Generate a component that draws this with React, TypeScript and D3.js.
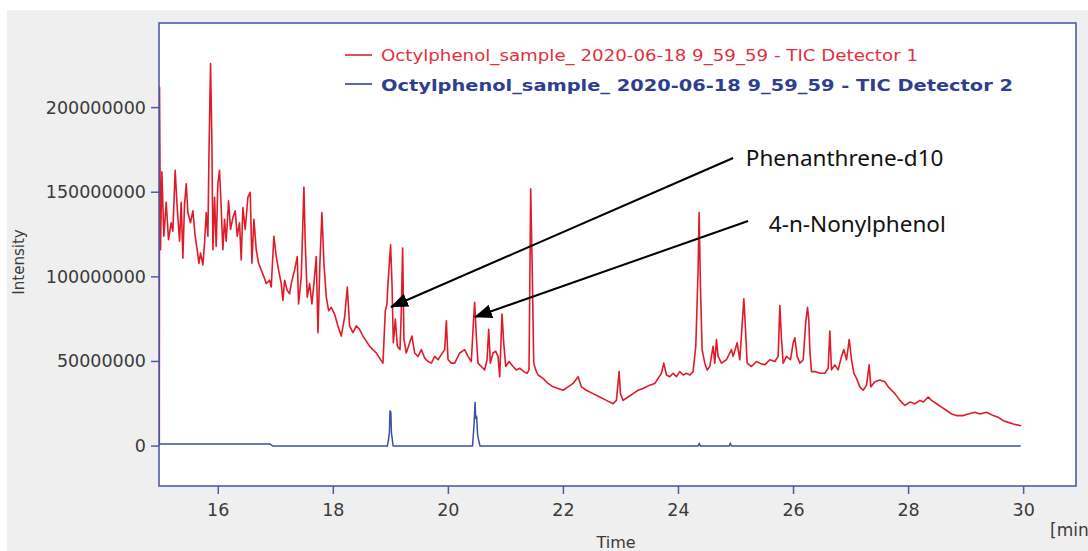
import React from "react";
import * as d3 from "d3";

// ---- Data ----
const xTicks = [16, 18, 20, 22, 24, 26, 28, 30];
const yTicks = [0, 50, 100, 150, 200]; // millions
const yTickLabels = ["0", "50000000", "100000000", "150000000", "200000000"];

const legendLabels = [
  "Octylphenol_sample_ 2020-06-18 9_59_59 - TIC Detector 1",
  "Octylphenol_sample_ 2020-06-18 9_59_59 - TIC Detector 2",
];

// Detector 1 (red) – time [min], intensity [millions]
const redTime = [
  14.975, 14.979, 14.996, 15.02, 15.054, 15.095, 15.135, 15.182, 15.211, 15.251, 15.286, 15.327,
  15.356, 15.385, 15.414, 15.443, 15.472, 15.518, 15.559, 15.599, 15.634, 15.663, 15.692, 15.733,
  15.762, 15.791, 15.82, 15.837, 15.866, 15.889, 15.907, 15.936, 15.964, 15.993, 16.022, 16.051,
  16.08, 16.109, 16.138, 16.179, 16.214, 16.254, 16.295, 16.33, 16.37, 16.399, 16.428, 16.469,
  16.515, 16.556, 16.585, 16.62, 16.66, 16.701, 16.747, 16.794, 16.834, 16.892, 16.921, 16.967,
  17.008, 17.049, 17.095, 17.124, 17.153, 17.199, 17.24, 17.269, 17.327, 17.373, 17.396, 17.443,
  17.489, 17.512, 17.547, 17.588, 17.628, 17.663, 17.704, 17.733, 17.767, 17.802, 17.837, 17.878,
  17.918, 17.964, 18.022, 18.08, 18.138, 18.196, 18.243, 18.283, 18.341, 18.399, 18.457, 18.515,
  18.573, 18.631, 18.689, 18.747, 18.805, 18.863, 18.904, 18.933, 18.95, 18.996, 19.02, 19.043,
  19.078, 19.113, 19.159, 19.182, 19.205, 19.228, 19.269, 19.327, 19.367, 19.414, 19.472, 19.53,
  19.588, 19.646, 19.704, 19.762, 19.82, 19.878, 19.936, 19.965, 19.994, 20.051, 20.11, 20.197,
  20.283, 20.341, 20.399, 20.44, 20.457, 20.486, 20.515, 20.573, 20.631, 20.672, 20.701, 20.73,
  20.776, 20.823, 20.863, 20.892, 20.933, 20.962, 20.997, 21.055, 21.124, 21.182, 21.24, 21.31,
  21.368, 21.402, 21.431, 21.46, 21.484, 21.518, 21.559, 21.646, 21.733, 21.82, 21.907, 21.994,
  22.081, 22.168, 22.255, 22.312, 22.399, 22.515, 22.631, 22.747, 22.863, 22.921, 22.968, 22.991,
  23.037, 23.124, 23.211, 23.298, 23.385, 23.501, 23.588, 23.646, 23.704, 23.744, 23.791, 23.849,
  23.907, 23.965, 24.023, 24.081, 24.139, 24.197, 24.254, 24.301, 24.341, 24.359, 24.382, 24.411,
  24.457, 24.498, 24.544, 24.602, 24.631, 24.66, 24.689, 24.747, 24.834, 24.921, 24.95, 25.02,
  25.066, 25.136, 25.159, 25.194, 25.269, 25.356, 25.414, 25.501, 25.588, 25.675, 25.733, 25.762,
  25.791, 25.82, 25.878, 25.947, 25.994, 26.023, 26.063, 26.11, 26.168, 26.214, 26.243, 26.266,
  26.283, 26.312, 26.37, 26.457, 26.544, 26.602, 26.631, 26.66, 26.718, 26.776, 26.834, 26.875,
  26.921, 26.968, 27.008, 27.049, 27.095, 27.153, 27.211, 27.269, 27.315, 27.344, 27.414, 27.501,
  27.588, 27.646, 27.704, 27.762, 27.849, 27.936, 28.023, 28.11, 28.197, 28.255, 28.341, 28.399,
  28.486, 28.573, 28.66, 28.747, 28.834, 28.95, 29.037, 29.153, 29.24, 29.356, 29.472, 29.559,
  29.646, 29.733, 29.82, 29.954,
];
const redIntensity = [
  0, 212, 116, 162, 124, 144, 122, 132, 127, 163, 141, 121,
  144, 111, 143, 155, 138, 132, 139, 124, 116, 108, 114, 107,
  120, 138, 124, 169, 226, 181, 116, 147, 118, 155, 163, 141,
  116, 134, 121, 145, 128, 135, 139, 124, 132, 110, 141, 128,
  147, 150, 108, 134, 116, 108, 104, 100, 96, 98, 94, 124,
  112, 104, 96, 86, 98, 92, 90, 96, 104, 112, 84, 100,
  153, 120, 88, 96, 84, 96, 112, 67, 108, 138, 108, 88,
  80, 82, 78, 71, 65, 76, 94, 71, 67, 71, 69, 65,
  62, 59, 57, 55, 52, 49, 80, 84, 96, 119, 96, 61,
  75, 59, 57, 80, 117, 63, 55, 61, 65, 55, 53, 57,
  52, 50, 49, 53, 51, 54, 57, 74, 51, 49, 49, 55,
  57, 53, 50, 76, 85, 65, 49, 47, 45, 51, 69, 49,
  55, 56, 53, 41, 78, 61, 47, 50, 47, 45, 46, 44,
  43, 45, 152, 100, 49, 45, 42, 40, 37, 35, 34, 33,
  35, 37, 41, 35, 33, 31, 29, 27, 25, 27, 44, 31,
  27, 29, 31, 33, 34, 36, 37, 40, 43, 49, 42, 41,
  43, 41, 44, 42, 43, 42, 44, 59, 104, 138, 94, 57,
  49, 45, 47, 59, 49, 63, 53, 49, 51, 57, 53, 61,
  51, 87, 73, 49, 47, 50, 49, 48, 51, 50, 53, 83,
  63, 49, 53, 51, 61, 64, 53, 49, 51, 74, 82, 74,
  57, 44, 44, 43, 43, 46, 68, 45, 48, 45, 53, 57,
  51, 63, 51, 43, 40, 35, 33, 36, 48, 35, 38, 39,
  38, 35, 33, 31, 27, 24, 26, 25, 27, 26, 29, 27,
  25, 23, 21, 19, 18, 18, 19, 20, 19, 20, 18, 17,
  15, 14, 13, 12,
];

// Detector 2 (blue)
const blueTime = [
  14.97, 16.9, 16.95, 18.94, 18.96, 18.975, 18.985, 19.0, 19.01, 19.04,
  20.42, 20.445, 20.465, 20.475, 20.49, 20.51, 20.55,
  24.34, 24.36, 24.38, 24.88, 24.9, 24.92, 29.95,
];
const blueIntensity = [
  1.2, 1.2, 0, 0, 4, 8, 21, 20, 8, 0,
  0, 12, 26, 16, 18, 6, 0,
  0, 1.5, 0, 0, 1.5, 0, 0,
];

// Annotations (time, intensity in millions)
const annotationLabels = ["Phenanthrene-d10", "4-n-Nonylphenol"];
const annotationTextPos = [[25.17, 165.7], [25.57, 126.7]];
const annotationLineStart = [[24.95, 170.2], [25.21, 133.0]];
const annotationTip = [[19.003, 82.2], [20.463, 76.3]];

export default function App() {
  const W = 1088;
  const H = 551;
  const L = 159, T = 23, R = 1076, B = 486;
  const x = d3.scaleLinear().domain([14.97, 30.91]).range([L, R]);
  const y = d3.scaleLinear().domain([-23.6, 250]).range([B, T]);

  const redData = redTime.map((t, i) => [t, redIntensity[i]] as [number, number]);
  const blueData = blueTime.map((t, i) => [t, blueIntensity[i]] as [number, number]);
  const line = d3.line<[number, number]>().x((d) => x(d[0])).y((d) => y(d[1]));

  const axisColor = "#4c5ca8";
  const labelColor = "#3a3a3a";

  return (
    <svg
      width={W}
      height={H}
      style={{ position: "absolute", left: 0, top: 0, display: "block" }}
    >
      <defs>
        <clipPath id="plotClip">
          <rect x={L} y={T} width={R - L} height={B - T} />
        </clipPath>
        <marker
          id="arrowHead"
          markerUnits="userSpaceOnUse"
          markerWidth={18}
          markerHeight={14}
          viewBox="0 0 18 14"
          refX={17}
          refY={7}
          orient="auto"
        >
          <path d="M0,0 L18,7 L0,14 Z" fill="#000" />
        </marker>
      </defs>
      <rect x={0} y={0} width={W} height={H} fill="#ffffff" />
      <rect x={7} y={10} width={W - 7} height={H - 10} fill="#efefef" />
      <rect x={L} y={T} width={R - L} height={B - T} fill="#ffffff" />

      {/* series */}
      <g clipPath="url(#plotClip)">
        <path d={line(blueData) || ""} fill="none" stroke="#3d4fa6" strokeWidth={1.5} />
        <path d={line(redData) || ""} fill="none" stroke="#e01b28" strokeWidth={1.6} strokeLinejoin="round" />
      </g>

      {/* frame */}
      <rect x={L} y={T} width={R - L} height={B - T} fill="none" stroke={axisColor} strokeWidth={1.6} />

      {/* y axis */}
      {yTicks.map((v, i) => (
        <g key={"y" + v}>
          <line x1={L - 8} x2={L} y1={y(v)} y2={y(v)} stroke={axisColor} strokeWidth={1.5} />
          <text
            x={L - 13}
            y={y(v)}
            textAnchor="end"
            dominantBaseline="central"
            fontFamily="DejaVu Sans"
            fontSize={17.5}
            fill={labelColor}
          >
            {yTickLabels[i]}
          </text>
        </g>
      ))}
      {/* x axis */}
      {xTicks.map((t) => (
        <g key={"x" + t}>
          <line x1={x(t)} x2={x(t)} y1={B} y2={B + 8} stroke={axisColor} strokeWidth={1.5} />
          <text
            x={x(t)}
            y={510}
            textAnchor="middle"
            dominantBaseline="central"
            fontFamily="DejaVu Sans"
            fontSize={17.5}
            fill={labelColor}
          >
            {t}
          </text>
        </g>
      ))}

      <text x={616} y={548} textAnchor="middle" fontFamily="DejaVu Sans" fontSize={16} fill={labelColor}>
        Time
      </text>
      <text x={1050} y={536} fontFamily="DejaVu Sans" fontSize={17} fill={labelColor}>
        [min]
      </text>
      <text
        transform="translate(24,262) rotate(-90)"
        textAnchor="middle"
        fontFamily="DejaVu Sans"
        fontSize={15}
        fill={labelColor}
      >
        Intensity
      </text>

      {/* legend */}
      <line x1={345} x2={372} y1={55} y2={55} stroke="#e4505a" strokeWidth={2} />
      <text
        x={381}
        y={55}
        dominantBaseline="central"
        fontFamily="DejaVu Sans"
        fontSize={16}
        fill="#e2303c"
        textLength={537}
        lengthAdjust="spacingAndGlyphs"
      >
        {legendLabels[0]}
      </text>
      <line x1={345} x2={372} y1={84} y2={84} stroke="#5868b0" strokeWidth={2} />
      <text
        x={381}
        y={85}
        dominantBaseline="central"
        fontFamily="DejaVu Sans"
        fontWeight="bold"
        fontSize={16}
        fill="#2f3f90"
        textLength={632}
        lengthAdjust="spacingAndGlyphs"
      >
        {legendLabels[1]}
      </text>

      {/* annotations */}
      {annotationLabels.map((lab, i) => (
        <g key={lab}>
          <line
            x1={x(annotationLineStart[i][0])}
            y1={y(annotationLineStart[i][1])}
            x2={x(annotationTip[i][0])}
            y2={y(annotationTip[i][1])}
            stroke="#000"
            strokeWidth={2}
            markerEnd="url(#arrowHead)"
          />
          <text
            x={x(annotationTextPos[i][0])}
            y={y(annotationTextPos[i][1])}
            fontFamily="Noto Sans"
            fontSize={22.5}
            fill="#111"
          >
            {lab}
          </text>
        </g>
      ))}
    </svg>
  );
}
